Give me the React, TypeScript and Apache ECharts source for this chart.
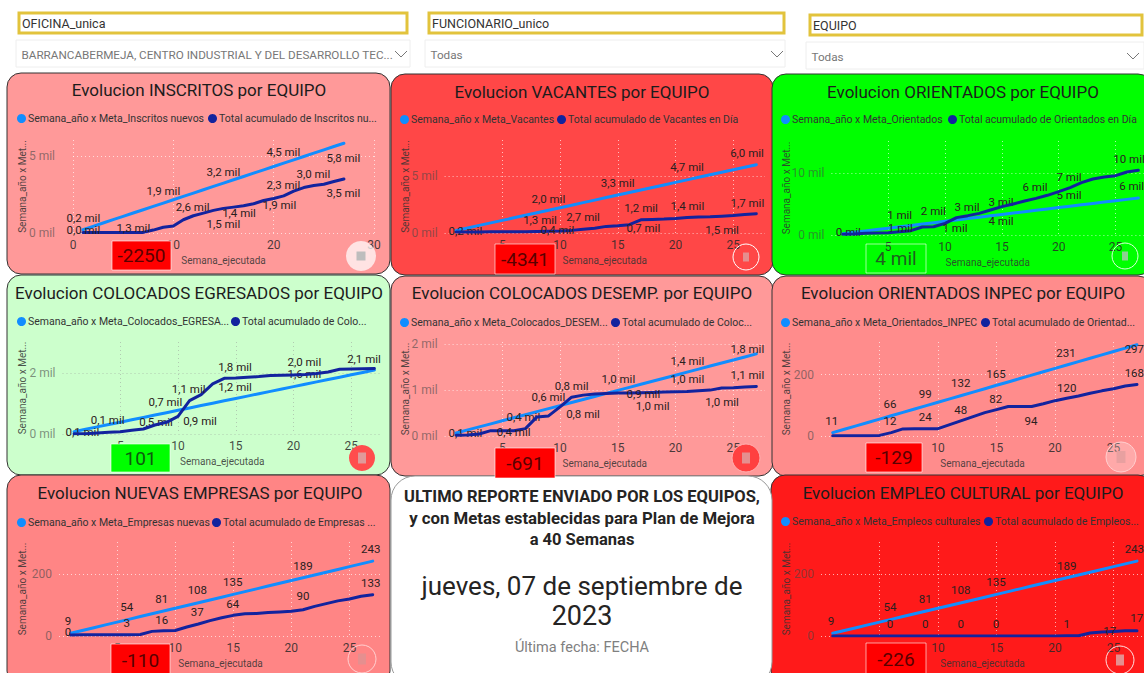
import React, { useEffect, useRef } from "react";
import * as echarts from "echarts";

const FONT = "Roboto";

// ---------- data, week 1..27 ----------
const inscritosMeta = [216,432,648,864,1080,1296,1512,1728,1944,2160,2376,2592,2808,3024,3240,3456,3672,3888,4104,4320,4536,4752,4968,5184,5400,5616,5832];
const inscritosActual = [30,30,30,30,30,30,40,190,370,450,860,1120,1290,1470,1600,1680,1770,1900,2110,2240,2410,2720,2950,3080,3170,3340,3510];
const vacantesMeta = [222,444,666,888,1110,1332,1554,1776,1998,2220,2442,2664,2886,3108,3330,3552,3774,3996,4218,4440,4662,4884,5106,5328,5550,5772,5994];
const vacantesActual = [80,90,90,100,100,110,120,130,150,170,230,320,410,580,640,730,1160,1190,1220,1280,1370,1400,1420,1480,1540,1630,1690];
const orientadosMeta = [221,442,663,884,1105,1326,1547,1768,1989,2210,2431,2652,2873,3094,3315,3536,3757,3978,4199,4420,4641,4862,5083,5304,5525,5746,5967];
const orientadosActual = [110,160,270,320,380,540,700,1290,1340,1880,2800,3120,3490,4030,4570,5000,5480,5910,6400,6990,7630,8440,9030,9350,9570,10160,10430];
const egresadosMeta = [78,156,234,312,390,468,546,624,702,780,858,936,1014,1092,1170,1248,1326,1404,1482,1560,1638,1716,1794,1872,1950,2028,2106];
const egresadosActual = [10,10,33,55,77,121,165,297,385,582,1099,1297,1648,1835,1846,1868,1890,1923,1934,1945,1956,1989,2044,2130,2140,2150,2160];
const desempMeta = [66,132,198,264,330,396,462,528,594,660,726,792,858,924,990,1056,1122,1188,1254,1320,1386,1452,1518,1584,1650,1716,1782];
const desempActual = [15,22,44,116,116,116,160,414,436,633,843,887,909,923,931,931,938,945,953,960,967,982,996,1040,1047,1061,1076];
const inpecMeta = [11,22,33,44,55,66,77,88,99,110,121,132,143,154,165,176,187,198,209,220,231,242,253,264,275,286,297];
const inpecActual = [1,1,1,1,2,11,23,24,24,24,37,50,63,76,86,96,96,96,105,115,123,130,139,147,154,163,168];
const empresasMeta = [9,18,27,36,45,54,63,72,81,90,99,108,117,126,135,144,153,162,171,180,189,198,207,216,225,234,243];
const empresasActual = [3,4,4,4,4,4,5,15,17,18,29,39,50,59,67,72,73,76,78,80,85,96,105,114,120,129,134];
const culturalMeta = [9,18,27,36,45,54,63,72,81,90,99,108,117,126,135,144,153,162,171,180,189,198,207,216,225,234,243];
const culturalActual = [0,0,0,0,0,0,0,0,0,0,0,0,0,0,0,0,0,0,0,0,1,1,10,13,15,17,17];

// ---------- data labels: [week, text] ----------
const inscritosMetaLabels = [[1,"0,2 mil"],[9,"1,9 mil"],[15,"3,2 mil"],[21,"4,5 mil"],[27,"5,8 mil"]];
const inscritosActualLabels = [[1,"0,0 mil"],[6,"1,3 mil"],[12,"2,6 mil"],[15,"1,5 mil"],[17,"1,4 mil"],[20,"1,9 mil"],[21,"2,3 mil"],[24,"3,0 mil"],[27,"3,5 mil"]];
const vacantesMetaLabels = [[1,"0,2 mil"],[9,"2,0 mil"],[15,"3,3 mil"],[21,"4,7 mil"],[27,"6,0 mil"]];
const vacantesActualLabels = [[8,"1,3 mil"],[9,"0,4 mil"],[11,"2,7 mil"],[16,"1,2 mil"],[17,"0,7 mil"],[21,"1,4 mil"],[24,"1,5 mil"],[27,"1,7 mil"]];
const orientadosMetaLabels = [[1,"0 mil"],[6,"1 mil"],[9,"2 mil"],[12,"3 mil"],[15,"3 mil"],[21,"5 mil"],[27,"6 mil"]];
const orientadosActualLabels = [[6,"1 mil"],[11,"1 mil"],[15,"4 mil"],[18,"6 mil"],[21,"7 mil"],[27,"10 mil"]];
const egresadosMetaLabels = [[1,"0,1 mil"],[8,"0,5 mil"],[9,"0,7 mil"],[15,"1,2 mil"],[21,"1,6 mil"],[27,"2,1 mil"]];
const egresadosActualLabels = [[4,"0,1 mil"],[11,"1,1 mil"],[12,"0,9 mil"],[15,"1,8 mil"],[21,"2,0 mil"]];
const desempMetaLabels = [[1,"0,1 mil"],[6,"0,4 mil"],[9,"0,6 mil"],[15,"1,0 mil"],[21,"1,4 mil"],[27,"1,8 mil"]];
const desempActualLabels = [[6,"0,4 mil"],[11,"0,8 mil"],[12,"0,8 mil"],[17,"0,9 mil"],[18,"1,0 mil"],[21,"1,0 mil"],[24,"1,0 mil"],[27,"1,1 mil"]];
const inpecMetaLabels = [[1,"11"],[6,"66"],[9,"99"],[12,"132"],[15,"165"],[21,"231"],[27,"297"]];
const inpecActualLabels = [[6,"12"],[9,"24"],[12,"48"],[15,"82"],[18,"94"],[21,"120"],[27,"168"]];
const empresasMetaLabels = [[1,"9"],[6,"54"],[9,"81"],[12,"108"],[15,"135"],[21,"189"],[27,"243"]];
const empresasActualLabels = [[1,"0"],[6,"3"],[9,"16"],[12,"37"],[15,"64"],[21,"90"],[27,"133"]];
const culturalMetaLabels = [[1,"9"],[6,"54"],[9,"81"],[12,"108"],[15,"135"],[21,"189"],[27,"243"]];
const culturalActualLabels = [[6,"0"],[9,"0"],[12,"0"],[15,"0"],[21,"1"],[25,"17"],[27,"17"]];

const BLUE = "#118DFF";
const NAVY = "#12239E";

// ---------- layout of each panel ----------
const panels: any[] = [
  { title: "Evolucion INSCRITOS por EQUIPO", box: [7,73,383,201], fill: "#FF9999", tx: 199, ty: 90,
    names: ["Semana_año x Meta_Inscritos nuevos","Total acumulado de Inscritos nu..."], leg: [22,213], legY: 118,
    x0: 73, x1: 374, xMax: 30, xInt: 10, y0: 233, y1: 140, yMax: 6040, yInt: 5000, yFmt: "mil", yMargin: 18,
    meta: inscritosMeta, actual: inscritosActual, mL: inscritosMetaLabels, aL: inscritosActualLabels,
    org: [0,0],
    mAt: [[250,653],[490,574],[670,516],[850,455],[1030,474]],
    aAt: [[250,690],[400,683],[578,622],[670,672],[717,638],[838,616],[850,556],[940,523],[1030,579]],
    kpi: { box: [112,241,59,29], text: "-2250", fill: "#FF0000", color: "#5a0000" },
    btn: { c: [361,256], r: 15, fill: "rgba(255,255,255,0.72)", stroke: "none", inner: "#BDBDBD", iw: 9, ih: 9 } },
  { title: "Evolucion VACANTES por EQUIPO", box: [391,74,382,201], fill: "#FF4747", tx: 582, ty: 92,
    names: ["Semana_año x Meta_Vacantes","Total acumulado de Vacantes en Día"], leg: [405,562], legY: 119,
    x0: 444.6, x1: 765, xMax: 27.75, xInt: 5, y0: 233, y1: 140, yMax: 8160, yInt: 5000, yFmt: "mil", yMargin: 7,
    meta: vacantesMeta, actual: vacantesActual, mL: vacantesMetaLabels, aL: vacantesActualLabels,
    org: [385,0],
    mAt: [[241,693],[490,596],[698,550],[906,502],[1086,458]],
    aAt: [[465,659],[517,690],[594,651],[768,625],[775,683],[907,619],[1011,691],[1087,609]],
    kpi: { box: [495,244,60,30], text: "-4341", fill: "#FF0000", color: "#5a0000" },
    btn: { c: [746,257], r: 13, fill: "none", stroke: "#FFFFFF", inner: "#E58F8F", iw: 6, ih: 9 } },
  { title: "Evolucion ORIENTADOS por EQUIPO", box: [772,74,380,201], fill: "#00FF00", tx: 963, ty: 92,
    names: ["Semana_año x Meta_Orientados","Total acumulado de Orientados en Día"], leg: [786,953], legY: 119,
    x0: 831.4, x1: 1144, xMax: 27.5, xInt: 5, y0: 235, y1: 141, yMax: 15160, yInt: 10000, yFmt: "mil", yMargin: 7,
    meta: orientadosMeta, actual: orientadosActual, mL: orientadosMetaLabels, aL: orientadosActualLabels,
    org: [765,0],
    mAt: [[250,695],[404,645],[505,632],[606,622],[708,607],[912,584],[1100,558]],
    aAt: [[406,685],[570,685],[708,663],[810,561],[912,532],[1092,477]],
    kpi: { box: [866,244,60,29], text: "4 mil", fill: "none", color: "#1F5F1F" },
    btn: { c: [1125,256], r: 13, fill: "none", stroke: "#D8FFD8", inner: "#8FD08F", iw: 6, ih: 9 } },
  { title: "Evolucion COLOCADOS EGRESADOS por EQUIPO", box: [7,275,383,200], fill: "#CCFFCC", tx: 199, ty: 293, grid: "rgba(170,190,170,0.8)",
    names: ["Semana_año x Meta_Colocados_EGRESA...","Total acumulado de Colo..."], leg: [22,236], legY: 321,
    x0: 62.5, x1: 382, xMax: 27.66, xInt: 5, y0: 434, y1: 342, yMax: 3030, yInt: 2000, yFmt: "mil", yMargin: 7,
    meta: egresadosMeta, actual: egresadosActual, mL: egresadosMetaLabels, aL: egresadosActualLabels,
    org: [0,270],
    mAt: [[247,487],[468,457],[496,395],[705,352],[913,312],[1092,268]],
    aAt: [[323,450],[566,358],[600,452],[705,292],[913,276]],
    kpi: { box: [111,444,59,28], text: "101", fill: "#00FF00", color: "#0E5A0E" },
    btn: { c: [362,458], r: 13, fill: "#FF4D4D", stroke: "none", inner: "#E09A9A", iw: 8, ih: 11 } },
  { title: "Evolucion COLOCADOS DESEMP. por EQUIPO", box: [391,276,382,200], fill: "#FF9999", tx: 582, ty: 293,
    names: ["Semana_año x Meta_Colocados_DESEM...","Total acumulado de Coloc..."], leg: [405,616], legY: 322,
    x0: 444.6, x1: 765, xMax: 27.75, xInt: 5, y0: 436, y1: 342, yMax: 2040, yInt: 1000, yFmt: "mil", yMargin: 7,
    meta: desempMeta, actual: desempActual, mL: desempMetaLabels, aL: desempActualLabels,
    org: [385,270],
    mAt: [[241,489],[415,442],[490,381],[700,326],[907,273],[1087,236]],
    aAt: [[386,487],[560,347],[594,432],[775,373],[803,407],[907,326],[1011,397],[1087,315]],
    kpi: { box: [495,448,60,30], text: "-691", fill: "#FF0000", color: "#5a0000" },
    btn: { c: [746,458], r: 14, fill: "#FF4040", stroke: "#FFB0B0", inner: "#E58F8F", iw: 8, ih: 11 } },
  { title: "Evolucion ORIENTADOS INPEC por EQUIPO", box: [772,276,380,200], fill: "#FF8C8C", tx: 963, ty: 293,
    names: ["Semana_año x Meta_Orientados_INPEC","Total acumulado de Orientad..."], leg: [786,986], legY: 322,
    x0: 821, x1: 1144, xMax: 27.6, xInt: 5, y0: 436, y1: 342, yMax: 306, yInt: 200, yFmt: "n", yMargin: 7,
    meta: inpecMeta, actual: inpecActual, mL: inpecMetaLabels, aL: inpecActualLabels,
    org: [765,270],
    mAt: [[200,453],[375,403],[481,372],[587,340],[693,311],[903,250],[1108,238]],
    aAt: [[375,454],[481,441],[587,419],[692,387],[798,454],[905,353],[1108,309]],
    kpi: { box: [866,443,56,29], text: "-129", fill: "#FF0000", color: "#5a0000" },
    btn: { c: [1121,457], r: 15, fill: "rgba(255,255,255,0.25)", stroke: "#FFD0D0", inner: "#E8A0A0", iw: 9, ih: 12 } },
  { title: "Evolucion NUEVAS EMPRESAS por EQUIPO", box: [7,475,383,210], fill: "#FF8585", tx: 200, ty: 493,
    names: ["Semana_año x Meta_Empresas nuevas","Total acumulado de Empresas ..."], leg: [22,217], legY: 522,
    x0: 59, x1: 382, xMax: 27.8, xInt: 5, y0: 636, y1: 542, yMax: 305, yInt: 200, yFmt: "n", yMargin: 7,
    meta: empresasMeta, actual: empresasActual, mL: empresasMetaLabels, aL: empresasActualLabels,
    org: [0,470],
    mAt: [[204,452],[380,411],[485,386],[592,360],[698,336],[909,287],[1112,236]],
    aAt: [[204,485],[380,459],[485,449],[592,426],[698,402],[909,379],[1112,339]],
    kpi: { box: [111,644,59,32], text: "-110", fill: "#FF0000", color: "#5a0000" },
    btn: { c: [362,659], r: 14, fill: "none", stroke: "#FFD0D0", inner: "#E58F8F", iw: 8, ih: 11 } },
  { title: "Evolucion EMPLEO CULTURAL por EQUIPO", box: [771,475,381,210], fill: "#FF1A1A", tx: 963, ty: 493,
    names: ["Semana_año x Meta_Empleos culturales","Total acumulado de Empleos..."], leg: [786,989], legY: 521,
    x0: 821, x1: 1144, xMax: 27.6, xInt: 5, y0: 636, y1: 542, yMax: 305, yInt: 200, yFmt: "n", yMargin: 7,
    meta: culturalMeta, actual: culturalActual, mL: culturalMetaLabels, aL: culturalActualLabels,
    org: [765,470],
    mAt: [[198,452],[375,411],[481,386],[587,360],[693,336],[905,287],[1108,236]],
    aAt: [[375,461],[481,461],[587,461],[693,461],[905,461],[1034,484],[1115,443]],
    kpi: { box: [866,643,60,32], text: "-226", fill: "#FF0000", color: "#5a0000" },
    btn: { c: [1120,660], r: 14, fill: "none", stroke: "#FFE0E0", inner: "#E58F8F", iw: 8, ih: 11 } },
];

const filters = [
  { label: "OFICINA_unica", box: [19,13,388,20], value: "BARRANCABERMEJA, CENTRO INDUSTRIAL Y DEL DESARROLLO TEC...", drop: [16,40,394,27], chev: 401 },
  { label: "FUNCIONARIO_unico", box: [429,13,355,20], value: "Todas", drop: [425,40,360,27], chev: 777 },
  { label: "EQUIPO", box: [810,15,332,20], value: "Todas", drop: [806,42,338,27], chev: 1133 },
];

function buildLabels(p: any, list: any[], at: any[], values: number[]) {
  const xs = (w: number) => p.x0 + (w * (p.x1 - p.x0)) / p.xMax;
  const ys = (v: number) => p.y0 - (v * (p.y0 - p.y1)) / p.yMax;
  const map: any = {};
  list.forEach(([week, text]: any, i: number) => {
    const tx = p.org[0] + at[i][0] / 3;
    const ty = p.org[1] + at[i][1] / 3;
    map[week] = { text, offset: [tx - xs(week), ty - ys(values[week - 1])] };
  });
  return map;
}

function lineSeries(p: any, idx: number, name: string, values: number[], color: string, labels: any, z: number) {
  return {
    type: "line", name, xAxisIndex: idx, yAxisIndex: idx, z,
    symbol: "circle", symbolSize: 0, showSymbol: true, showAllSymbol: true,
    lineStyle: { color, width: 3, cap: "round", join: "round" }, itemStyle: { color },
    data: values.map((v, i) => {
      const l = labels[i + 1];
      const item: any = { value: [i + 1, v] };
      if (l) item.label = { show: true, formatter: l.text, position: "inside", offset: l.offset, align: "center", verticalAlign: "middle", color: "#2a2020", fontFamily: FONT, fontSize: 11.5 };
      return item;
    }),
  };
}

function buildOption(): any {
  const title: any[] = [], grid: any[] = [], xAxis: any[] = [], yAxis: any[] = [], legend: any[] = [], series: any[] = [], els: any[] = [];
  panels.forEach((p, i) => {
    title.push({ text: p.title, left: p.tx, top: p.ty - 10, padding: 0, textAlign: "center", textStyle: { fontFamily: FONT, fontWeight: 400, fontSize: 17, color: "#1c1c1c", lineHeight: 20 } });
    grid.push({ left: p.x0, width: p.x1 - p.x0, top: p.y1, height: p.y0 - p.y1, containLabel: false });
    const gridColor = p.grid || "rgba(255,255,255,0.65)";
    const splitLine = { show: true, showMinLine: true, showMaxLine: false, lineStyle: { color: gridColor, type: [1, 3], width: 1 } };
    xAxis.push({
      type: "value", gridIndex: i, min: 0, max: p.xMax, interval: p.xInt,
      name: "Semana_ejecutada", nameLocation: "middle", nameGap: 22, nameMoveOverlap: false,
      nameTextStyle: { fontFamily: FONT, fontSize: 10, color: "rgba(50,50,50,0.85)" },
      axisLine: { show: false }, axisTick: { show: false },
      axisLabel: { fontFamily: FONT, fontSize: 12, color: "rgba(40,40,40,0.85)", margin: 6, showMaxLabel: p.xMax === 30,
        formatter: (v: number) => (v === 0 && p.xMax !== 30 ? "" : String(v)) },
      splitLine: { ...splitLine, showMinLine: p.xMax === 30, showMaxLine: p.xMax === 30 },
    });
    yAxis.push({
      type: "value", gridIndex: i, min: 0, max: p.yMax, interval: p.yInt,
      name: "Semana_año x Met...", nameLocation: "middle", nameRotate: 90, nameGap: p.x0 - p.leg[0] - 5, nameMoveOverlap: false,
      nameTextStyle: { fontFamily: FONT, fontSize: 10, color: "rgba(50,50,50,0.85)" },
      axisLine: { show: false }, axisTick: { show: false },
      axisLabel: { fontFamily: FONT, fontSize: 12, color: "rgba(70,70,70,0.6)", margin: p.yMargin, showMaxLabel: false,
        formatter: (v: number) => (p.yFmt === "mil" ? `${v / 1000} mil` : String(v)) },
      splitLine,
    });
    p.names.forEach((n: string, k: number) => {
      legend.push({ data: [n], left: p.leg[k] - 5, top: p.legY - 5, icon: "circle", itemWidth: 9, itemHeight: 9, padding: 0, selectedMode: false,
        textStyle: { fontFamily: FONT, fontSize: 10.5, color: "#333", padding: [0, 0, 0, -3] } });
    });
    series.push(lineSeries(p, i, p.names[0], p.meta, BLUE, buildLabels(p, p.mL, p.mAt, p.meta), 3));
    series.push(lineSeries(p, i, p.names[1], p.actual, NAVY, buildLabels(p, p.aL, p.aAt, p.actual), 4));

    const [bx, by, bw, bh] = p.box;
    els.push({ type: "rect", z: -10, shape: { x: bx, y: by, width: bw, height: bh, r: 14 }, style: { fill: p.fill, stroke: "#333", lineWidth: 1 } });
    const k = p.kpi;
    els.push({ type: "rect", z: 20, shape: { x: k.box[0], y: k.box[1], width: k.box[2], height: k.box[3] }, style: { fill: k.fill === "none" ? "transparent" : k.fill, stroke: "rgba(255,255,255,0.6)", lineWidth: 1 } });
    els.push({ type: "text", z: 21, style: { x: k.box[0] + k.box[2] / 2, y: Math.min(k.box[1] + k.box[3] / 2, 660), text: k.text, fill: k.color, font: `400 19px ${FONT}`, textAlign: "center", textVerticalAlign: "middle" } });
    const b = p.btn;
    els.push({ type: "circle", z: 22, shape: { cx: b.c[0], cy: b.c[1], r: b.r }, style: { fill: b.fill === "none" ? "transparent" : b.fill, stroke: b.stroke === "none" ? "transparent" : b.stroke, lineWidth: 1 } });
    els.push({ type: "rect", z: 23, shape: { x: b.c[0] - b.iw / 2, y: b.c[1] - b.ih / 2, width: b.iw, height: b.ih }, style: { fill: b.inner } });
  });

  // white centre panel
  els.push({ type: "rect", z: -10, shape: { x: 391, y: 476, width: 381, height: 210, r: 24 }, style: { fill: "#fff", stroke: "#999", lineWidth: 1 } });
  const centre: any[] = [
    ["ULTIMO REPORTE ENVIADO POR LOS EQUIPOS,", 496, `700 16.5px ${FONT}`, "#252423"],
    ["y con Metas establecidas para Plan de Mejora", 518, `700 16.8px ${FONT}`, "#252423"],
    ["a 40 Semanas", 539, `700 16.5px ${FONT}`, "#252423"],
    ["jueves, 07 de septiembre de", 586, `400 26px ${FONT}`, "#252423"],
    ["2023", 616, `400 27px ${FONT}`, "#252423"],
    ["Última fecha: FECHA", 647, `400 14.5px ${FONT}`, "#808080"],
  ];
  centre.forEach(([text, y, font, fill]) => els.push({ type: "text", z: 5, style: { x: 582, y, text, font, fill, textAlign: "center", textVerticalAlign: "middle" } }));

  filters.forEach((f) => {
    const [x, y, w, h] = f.box;
    els.push({ type: "rect", z: 5, shape: { x, y, width: w, height: h }, style: { fill: "#fff", stroke: "#E2C33C", lineWidth: 3 } });
    els.push({ type: "text", z: 6, style: { x: x + 3, y: y + h / 2 + 0.5, text: f.label, font: `400 12.5px ${FONT}`, fill: "#333", textVerticalAlign: "middle" } });
    const [dx, dy, dw, dh] = f.drop;
    els.push({ type: "rect", z: 5, shape: { x: dx, y: dy, width: dw, height: dh }, style: { fill: "#fff", stroke: "#EEEEEE", lineWidth: 1 } });
    els.push({ type: "text", z: 6, style: { x: dx + 5.5, y: dy + dh / 2 + 1, text: f.value, font: `400 11.7px ${FONT}`, fill: "#777", textVerticalAlign: "middle" } });
    els.push({ type: "polyline", z: 6, shape: { points: [[f.chev - 6, dy + 11], [f.chev, dy + 17], [f.chev + 6, dy + 11]] }, style: { fill: "none", stroke: "#777", lineWidth: 1 } });
  });

  return { animation: false, backgroundColor: "#ffffff", textStyle: { fontFamily: FONT }, tooltip: { show: false }, title, grid, xAxis, yAxis, legend, series, graphic: { elements: els } };
}

export default function App() {
  const ref = useRef<HTMLDivElement>(null);
  useEffect(() => {
    document.body.style.margin = "0";
    document.body.style.overflow = "hidden";
    const chart = echarts.init(ref.current!, undefined, { renderer: "svg" });
    chart.setOption(buildOption());
    return () => chart.dispose();
  }, []);
  return <div ref={ref} style={{ width: 1144, height: 673 }} />;
}
